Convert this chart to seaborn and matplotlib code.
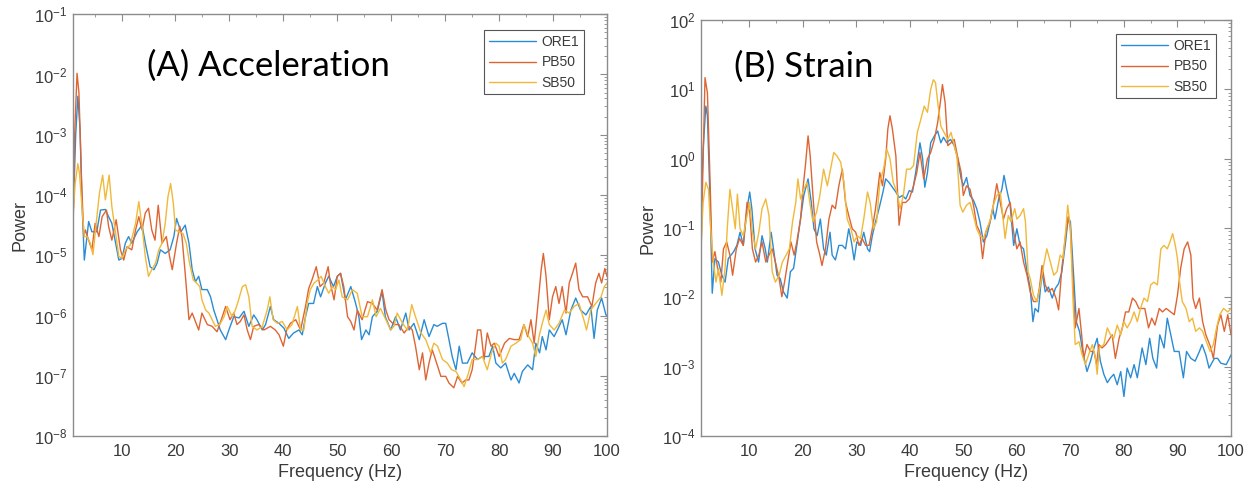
import numpy as np
import pandas as pd
import matplotlib
matplotlib.use("Agg")
import matplotlib.pyplot as plt
import seaborn as sns
from matplotlib.ticker import MultipleLocator, FixedLocator, NullFormatter, LogFormatterSciNotation

# ---------------- data (frequency Hz, log10 power) ----------------
stations = ["ORE1", "PB50", "SB50"]

acc_ore1 = [(1.0,-4.4),(1.5,-3.0),(1.9,-2.36),(2.3,-2.9),(2.7,-4.2),(3.1,-5.08),(3.9,-4.44),(4.5,-4.61),(5.4,-4.61),(6.1,-4.25),(7.0,-4.24),(7.6,-4.36),(8.2,-4.47),(8.9,-4.80),(9.5,-5.08),(10.1,-5.05),(10.7,-4.80),(11.3,-4.69),(11.9,-4.80),(12.9,-4.61),(13.8,-4.50),(14.4,-4.80),(15.3,-5.19),(16.0,-5.24),(16.6,-5.13),(17.2,-4.91),(18.1,-4.97),(19.0,-4.91),(19.7,-4.69),(20.2,-4.39),(21.0,-4.61),(21.8,-4.50),(22.5,-4.80),(23.1,-5.24),(23.7,-5.44),(24.3,-5.35),(24.9,-5.57),(25.9,-5.57),(26.5,-5.69),(27.1,-5.91),(27.7,-6.07),(28.3,-6.24),(29.3,-6.40),(29.9,-6.24),(30.8,-6.02),(31.8,-6.04),(32.7,-5.93),(33.6,-6.18),(34.5,-5.99),(35.1,-6.07),(36.1,-6.24),(36.7,-6.15),(37.6,-5.85),(38.2,-6.07),(39.2,-6.13),(40.1,-6.21),(41.0,-6.38),(41.9,-6.29),(42.9,-6.24),(43.5,-6.32),(44.1,-6.02),(44.7,-5.80),(45.6,-5.80),(46.3,-5.52),(46.9,-5.69),(47.8,-5.46),(48.4,-5.35),(49.3,-5.52),(50.0,-5.35),(50.6,-5.30),(51.5,-5.74),(52.5,-5.52),(53.4,-5.80),(54.0,-6.02),(54.5,-6.40),(55.3,-6.24),(55.9,-6.32),(56.5,-6.02),(57.4,-5.93),(58.3,-5.60),(58.9,-6.02),(59.9,-6.24),(60.8,-6.02),(61.7,-6.24),(62.7,-5.96),(63.3,-6.24),(64.2,-6.13),(65.2,-6.40),(66.1,-6.07),(67.0,-6.35),(67.9,-6.15),(68.5,-6.18),(69.5,-6.13),(70.1,-6.13),(70.7,-6.40),(71.3,-6.68),(72.0,-6.90),(72.6,-6.51),(73.2,-6.79),(74.1,-6.79),(75.0,-6.62),(76.0,-6.73),(76.9,-6.68),(78.1,-6.68),(78.8,-6.51),(79.4,-6.79),(80.3,-6.87),(81.2,-6.79),(82.2,-7.07),(82.8,-6.96),(83.7,-7.12),(84.3,-6.93),(85.3,-6.82),(86.2,-6.90),(86.8,-6.46),(87.5,-6.62),(88.0,-6.35),(88.7,-6.57),(89.3,-6.24),(90.2,-6.35),(90.8,-6.24),(91.7,-6.07),(92.4,-6.32),(93.3,-5.91),(94.2,-5.71),(95.1,-5.91),(96.1,-5.99),(97.0,-5.85),(97.6,-6.38),(98.2,-5.91),(99.0,-5.71),(99.8,-5.99),(100.0,-6.0)]

acc_pb50 = [(1.0,-4.69),(1.3,-3.0),(1.75,-1.98),(2.1,-2.3),(2.6,-3.8),(3.0,-4.69),(3.3,-4.58),(3.9,-4.75),(4.5,-4.91),(5.1,-4.47),(5.8,-4.69),(6.4,-4.36),(7.2,-4.25),(7.6,-4.52),(8.2,-4.75),(9.0,-4.41),(9.8,-4.91),(10.4,-5.08),(11.0,-4.86),(11.9,-4.91),(12.6,-4.58),(13.2,-4.36),(13.8,-4.58),(14.4,-4.30),(15.0,-4.22),(15.6,-4.58),(16.2,-4.75),(16.8,-4.17),(17.5,-4.80),(18.3,-4.69),(18.9,-5.02),(19.4,-5.24),(20.2,-4.80),(20.8,-4.52),(21.2,-4.69),(21.8,-5.30),(22.5,-6.07),(23.1,-5.96),(23.7,-6.10),(24.3,-6.24),(24.9,-5.96),(25.9,-6.15),(26.8,-6.18),(27.7,-6.27),(28.6,-6.04),(29.3,-5.85),(30.1,-6.07),(30.8,-5.96),(31.4,-6.15),(32.0,-6.10),(32.7,-5.99),(33.3,-6.24),(33.9,-6.40),(34.5,-6.18),(35.4,-6.15),(36.4,-6.24),(37.6,-6.18),(38.5,-6.24),(39.2,-6.32),(40.0,-6.51),(40.6,-6.24),(41.3,-6.13),(42.3,-6.07),(43.2,-6.24),(44.1,-5.85),(44.7,-5.55),(45.3,-5.41),(46.1,-5.19),(46.8,-5.52),(47.5,-5.46),(48.3,-5.19),(48.7,-5.46),(49.4,-5.74),(50.0,-5.35),(50.6,-5.30),(51.2,-5.52),(51.9,-6.02),(52.5,-6.10),(53.1,-6.24),(53.7,-5.91),(54.6,-6.07),(55.6,-5.77),(56.5,-5.80),(57.4,-5.91),(58.3,-5.57),(59.0,-5.91),(59.6,-6.07),(60.5,-6.15),(61.4,-6.15),(62.4,-6.29),(63.3,-6.18),(63.9,-6.24),(64.5,-6.51),(65.2,-6.90),(65.8,-6.62),(66.4,-7.07),(67.0,-6.79),(67.6,-6.57),(68.2,-6.73),(69.2,-7.01),(70.1,-7.01),(70.7,-7.12),(71.6,-7.20),(72.3,-7.01),(73.1,-7.12),(73.8,-7.07),(74.4,-7.07),(75.0,-6.90),(75.7,-6.46),(76.0,-6.24),(76.6,-6.24),(77.2,-6.73),(77.8,-6.29),(78.5,-6.51),(79.1,-6.46),(80.0,-6.68),(81.0,-6.46),(81.9,-6.38),(82.8,-6.40),(83.7,-6.40),(84.6,-6.15),(85.3,-6.35),(85.9,-6.07),(86.5,-6.46),(87.1,-5.91),(87.8,-5.24),(88.2,-4.97),(88.7,-5.35),(89.3,-6.07),(89.9,-5.69),(90.5,-5.52),(91.1,-5.80),(91.7,-5.52),(92.4,-5.96),(93.0,-5.46),(93.6,-5.30),(94.2,-5.13),(94.8,-5.57),(95.5,-5.69),(96.4,-5.69),(97.2,-5.85),(97.9,-5.46),(98.5,-5.30),(99.0,-5.46),(99.6,-5.22),(100.0,-5.35)]

acc_sb50 = [(1.0,-4.36),(1.4,-3.81),(1.9,-3.48),(2.2,-3.64),(2.7,-4.25),(3.1,-4.69),(3.6,-4.69),(4.2,-4.80),(4.7,-4.99),(5.3,-4.47),(5.9,-3.97),(6.5,-3.67),(7.0,-4.08),(7.7,-3.67),(8.2,-4.19),(8.9,-4.64),(9.5,-5.02),(10.1,-5.05),(10.7,-4.91),(11.6,-4.83),(12.6,-4.47),(13.2,-4.11),(13.8,-4.52),(14.4,-5.02),(15.0,-5.35),(15.6,-5.24),(16.3,-5.13),(16.9,-4.91),(17.5,-4.80),(18.1,-4.47),(18.6,-4.03),(19.1,-3.81),(19.6,-4.14),(20.0,-4.58),(20.6,-4.61),(21.4,-4.64),(22.0,-4.80),(22.6,-5.13),(23.3,-5.41),(23.9,-5.46),(24.5,-5.52),(24.9,-5.74),(25.6,-5.91),(26.2,-5.96),(26.8,-6.07),(27.4,-6.18),(28.2,-6.15),(29.0,-6.02),(29.6,-5.85),(30.5,-6.02),(31.1,-5.91),(31.7,-5.74),(32.4,-5.52),(33.0,-5.49),(33.6,-5.69),(34.2,-6.18),(35.1,-6.24),(36.1,-6.18),(37.0,-5.91),(37.5,-5.69),(38.1,-6.07),(38.9,-6.13),(39.8,-6.10),(40.7,-6.24),(41.6,-6.15),(42.6,-5.85),(43.2,-6.24),(43.8,-6.24),(44.4,-5.80),(45.0,-5.57),(45.7,-5.46),(46.4,-5.41),(47.0,-5.35),(47.8,-5.52),(48.4,-5.63),(49.1,-5.52),(49.7,-5.57),(50.3,-5.41),(50.9,-5.69),(51.9,-5.74),(52.8,-5.57),(53.7,-5.63),(54.6,-6.02),(55.6,-6.02),(56.5,-5.74),(57.2,-6.02),(58.0,-5.88),(59.0,-6.07),(59.9,-6.24),(60.5,-6.18),(61.1,-5.96),(62.1,-6.13),(63.0,-6.24),(63.8,-5.82),(64.5,-6.02),(65.5,-6.29),(66.4,-6.40),(67.3,-6.62),(67.9,-6.46),(68.6,-6.51),(69.5,-6.73),(70.4,-6.79),(71.2,-6.90),(72.0,-6.93),(72.9,-7.07),(73.5,-7.18),(74.3,-6.96),(75.0,-6.73),(76.0,-6.73),(76.9,-6.68),(77.8,-6.90),(78.6,-6.62),(79.4,-6.46),(80.0,-6.51),(80.6,-6.79),(81.2,-6.73),(82.2,-6.51),(83.1,-6.46),(84.0,-6.40),(84.6,-6.15),(85.5,-6.35),(86.2,-6.46),(86.8,-6.68),(87.4,-6.35),(88.0,-6.13),(88.7,-5.91),(89.3,-6.15),(90.2,-6.24),(91.1,-6.13),(92.1,-5.91),(93.0,-5.96),(93.9,-5.85),(94.8,-5.80),(95.8,-6.10),(96.2,-6.24),(97.0,-5.91),(97.9,-5.80),(98.9,-5.69),(99.5,-5.52),(100.0,-5.46)]

str_ore1 = [(1.0,-0.77),(1.4,0.14),(1.9,0.76),(2.2,0.62),(2.7,-0.63),(3.1,-1.94),(3.6,-1.44),(4.25,-1.49),(4.9,-1.68),(5.5,-1.78),(6.1,-1.44),(7.1,-1.34),(7.7,-1.25),(8.3,-1.06),(8.9,-1.25),(9.6,-0.72),(10.1,-0.48),(10.5,-0.72),(11.1,-1.30),(11.75,-1.49),(12.4,-1.11),(13.0,-1.30),(13.4,-1.49),(14.1,-1.06),(14.7,-1.39),(15.2,-1.68),(15.8,-1.73),(16.4,-1.92),(17.1,-2.01),(17.7,-1.63),(18.3,-1.58),(18.9,-1.25),(19.6,-0.87),(20.2,-0.53),(21.0,-0.29),(21.6,-0.63),(22.1,-1.01),(22.7,-1.11),(23.3,-0.87),(23.9,-1.30),(24.4,-1.39),(25.1,-1.06),(25.5,-1.39),(26.1,-1.46),(26.75,-1.25),(27.4,-1.25),(28.0,-1.30),(28.6,-1.01),(29.1,-1.20),(29.6,-1.46),(30.1,-1.20),(30.8,-1.25),(31.4,-1.06),(32.1,-1.30),(32.5,-1.34),(33.0,-1.11),(33.6,-0.91),(34.25,-0.72),(34.9,-0.51),(35.5,-0.29),(36.1,-0.34),(36.75,-0.41),(37.4,-0.48),(38.0,-0.56),(38.6,-0.53),(39.25,-0.58),(39.9,-0.46),(40.5,-0.48),(41.1,-0.20),(41.9,0.23),(42.4,0.00),(42.8,-0.41),(43.3,-0.20),(43.9,0.23),(44.6,0.33),(45.2,0.40),(45.8,0.23),(46.3,0.31),(46.9,0.23),(47.6,0.28),(48.3,0.19),(48.9,0.02),(49.6,-0.29),(50.0,-0.39),(50.6,-0.27),(51.25,-0.53),(51.9,-0.60),(52.5,-0.72),(53.1,-0.91),(53.75,-1.20),(54.4,-1.11),(55.0,-0.91),(55.5,-0.72),(55.9,-0.87),(56.6,-0.58),(57.2,-0.44),(57.6,-0.24),(58.1,-0.44),(58.75,-0.67),(59.4,-1.25),(60.0,-1.01),(60.6,-1.25),(61.25,-1.30),(61.9,-1.63),(62.5,-1.87),(63.0,-2.35),(63.4,-2.16),(64.0,-2.21),(64.7,-1.63),(65.3,-1.92),(65.9,-1.85),(66.6,-2.01),(67.2,-1.87),(67.8,-1.80),(68.4,-1.63),(69.1,-1.20),(69.6,-0.84),(70.0,-0.91),(70.6,-1.68),(71.1,-2.35),(71.7,-2.49),(72.3,-2.78),(73.1,-3.07),(73.75,-2.92),(74.4,-2.73),(75.0,-2.59),(75.6,-2.92),(76.25,-3.11),(76.9,-3.23),(77.5,-3.16),(78.1,-3.11),(78.75,-3.26),(79.4,-3.07),(80.0,-3.43),(80.6,-3.02),(81.25,-3.16),(81.9,-2.97),(82.5,-3.16),(83.4,-2.73),(84.1,-2.97),(84.8,-2.59),(85.4,-2.88),(86.1,-3.02),(86.7,-2.54),(87.5,-2.73),(88.1,-2.30),(88.75,-2.54),(89.4,-2.78),(90.3,-2.78),(91.1,-3.16),(91.7,-2.78),(92.5,-2.88),(93.3,-2.92),(94.1,-2.78),(94.6,-2.68),(95.3,-2.83),(95.9,-3.02),(96.9,-2.88),(97.5,-2.88),(98.1,-2.95),(99.1,-2.97),(99.7,-2.88),(100.0,-2.83)]

str_pb50 = [(1.0,-1.44),(1.3,-0.34),(1.75,1.17),(2.2,0.95),(2.7,-0.34),(3.1,-1.49),(3.6,-1.34),(4.1,-1.58),(4.7,-1.78),(5.2,-1.30),(5.8,-1.20),(6.4,-1.39),(6.9,-1.68),(7.6,-1.30),(8.2,-1.15),(8.9,-1.25),(9.6,-0.63),(10.1,-0.77),(10.6,-1.30),(11.2,-1.49),(11.8,-1.39),(12.4,-1.20),(13.1,-1.49),(13.7,-1.39),(14.3,-1.30),(14.9,-1.49),(15.6,-1.73),(16.1,-1.99),(16.6,-1.78),(17.2,-1.49),(17.8,-1.20),(18.4,-1.39),(18.9,-1.20),(19.6,-0.87),(20.1,-0.39),(20.5,-0.10),(21.0,0.33),(21.4,0.04),(22.0,-0.63),(22.6,-1.20),(23.2,-1.39),(23.6,-1.54),(24.25,-1.30),(24.9,-0.87),(25.5,-0.67),(26.1,-0.72),(26.75,-0.39),(27.4,-0.15),(28.0,-0.63),(28.6,-0.82),(29.25,-1.01),(29.9,-1.06),(30.5,-1.25),(31.1,-1.15),(31.75,-1.25),(32.4,-1.25),(33.0,-1.01),(33.6,-0.72),(34.4,-0.20),(34.9,-0.39),(35.5,0.00),(35.9,0.43),(36.3,0.62),(36.75,0.43),(37.4,0.04),(38.0,-0.96),(38.6,-0.63),(39.25,-0.63),(39.9,-0.58),(40.7,-0.39),(41.3,-0.20),(41.9,0.09),(42.6,-0.29),(43.3,0.00),(43.9,0.09),(44.6,0.28),(45.2,0.52),(45.7,0.81),(46.1,1.07),(46.6,0.81),(47.1,0.19),(47.7,0.23),(48.3,0.28),(48.9,0.04),(49.6,-0.20),(50.0,-0.53),(50.6,-0.39),(51.25,-0.44),(51.9,-0.67),(52.5,-0.96),(53.1,-1.06),(53.6,-1.44),(54.2,-1.06),(55.0,-0.91),(55.6,-0.67),(56.25,-0.36),(56.9,-0.63),(57.5,-0.87),(58.1,-0.72),(58.75,-0.63),(59.4,-1.06),(60.0,-1.30),(60.6,-1.20),(61.25,-1.49),(61.9,-1.68),(62.5,-1.92),(63.1,-2.06),(63.75,-2.06),(64.2,-1.87),(64.7,-1.54),(65.3,-1.82),(65.9,-1.92),(66.6,-1.87),(67.3,-2.01),(67.8,-2.18),(68.4,-1.58),(69.1,-1.11),(69.6,-0.84),(70.0,-1.01),(70.4,-1.63),(70.9,-2.44),(71.6,-2.16),(72.1,-2.54),(72.5,-2.88),(73.1,-2.68),(73.75,-2.78),(74.4,-2.78),(74.9,-2.97),(75.3,-2.68),(75.9,-2.73),(76.6,-2.68),(77.2,-2.61),(77.8,-2.54),(78.4,-2.88),(79.1,-2.59),(79.7,-2.44),(80.3,-2.21),(80.9,-2.21),(81.6,-2.01),(82.2,-2.06),(82.8,-2.16),(83.4,-2.16),(83.9,-2.16),(84.6,-2.44),(85.2,-2.30),(85.8,-2.40),(86.6,-2.16),(87.2,-2.21),(87.9,-2.16),(88.75,-2.21),(89.4,-2.25),(90.0,-1.97),(90.6,-1.58),(91.25,-1.30),(91.9,-1.20),(92.5,-1.39),(92.9,-2.01),(93.4,-2.16),(94.1,-2.01),(94.7,-2.35),(95.3,-2.54),(96.25,-2.73),(96.7,-2.88),(97.5,-2.40),(98.1,-2.25),(98.75,-2.49),(99.4,-2.25),(100.0,-2.54)]

str_sb50 = [(1.0,-1.25),(1.4,-0.63),(1.9,-0.34),(2.4,-0.44),(2.8,-1.01),(3.3,-1.49),(3.8,-1.78),(4.25,-1.58),(4.9,-1.97),(5.5,-1.58),(5.9,-1.01),(6.4,-0.44),(6.9,-0.72),(7.4,-1.01),(7.8,-0.51),(8.3,-1.01),(8.9,-1.11),(9.6,-0.82),(10.1,-0.63),(10.6,-1.06),(11.2,-1.30),(11.8,-1.06),(12.4,-0.72),(13.1,-0.58),(13.7,-0.82),(14.3,-1.63),(14.9,-1.78),(15.6,-1.68),(16.2,-1.49),(16.9,-1.39),(17.5,-1.30),(18.1,-0.91),(18.7,-0.63),(19.1,-0.29),(19.6,-0.58),(20.2,-0.44),(20.8,-0.34),(21.4,-0.67),(21.9,-0.91),(22.6,-0.77),(23.2,-0.53),(23.9,-0.15),(24.6,-0.39),(25.2,-0.15),(25.8,0.09),(26.4,0.04),(27.1,-0.05),(27.7,-0.34),(28.3,-0.87),(29.0,-1.01),(29.6,-1.20),(30.2,-1.11),(30.8,-1.15),(31.4,-0.87),(32.1,-0.48),(32.6,-0.63),(33.2,-1.01),(33.8,-0.91),(34.4,-0.34),(35.1,-0.15),(35.7,0.14),(36.3,0.00),(36.9,-0.34),(37.6,-0.48),(38.2,-0.72),(38.8,-0.53),(39.4,-0.15),(40.1,-0.15),(40.7,-0.10),(41.4,0.38),(41.9,0.52),(42.7,0.76),(43.3,0.67),(43.9,1.00),(44.4,1.14),(44.8,1.10),(45.3,0.76),(45.8,0.47),(46.4,0.38),(47.1,0.28),(47.7,0.38),(48.3,0.19),(48.8,0.04),(49.4,-0.67),(49.9,-0.77),(50.6,-0.67),(51.25,-0.63),(51.9,-0.82),(52.5,-1.01),(53.1,-1.11),(53.75,-1.15),(54.4,-1.01),(55.0,-0.89),(55.6,-0.67),(56.25,-0.53),(56.9,-0.48),(57.3,-0.77),(57.8,-1.15),(58.4,-0.82),(58.9,-0.91),(59.6,-0.72),(60.0,-0.87),(60.6,-0.82),(61.25,-0.72),(61.6,-0.91),(62.1,-1.63),(62.5,-1.73),(63.1,-1.97),(63.75,-2.06),(64.4,-1.82),(65.0,-1.54),(65.6,-1.30),(66.25,-1.49),(66.9,-1.68),(67.5,-1.63),(68.1,-1.39),(68.6,-1.44),(69.1,-1.06),(69.5,-0.67),(70.0,-1.01),(70.5,-2.06),(70.9,-2.68),(71.6,-2.64),(72.2,-2.83),(72.8,-2.97),(73.4,-2.83),(74.1,-2.68),(74.7,-2.88),(75.0,-3.11),(75.4,-2.73),(76.25,-2.68),(76.9,-2.44),(77.5,-2.54),(78.1,-2.59),(78.75,-2.40),(79.4,-2.54),(80.0,-2.35),(80.6,-2.44),(81.25,-2.35),(81.9,-2.21),(82.5,-2.35),(83.1,-2.16),(83.75,-2.01),(84.4,-2.06),(85.0,-1.82),(85.6,-1.78),(86.25,-1.82),(86.9,-1.30),(87.5,-1.25),(88.1,-1.30),(88.6,-1.20),(89.1,-1.08),(89.6,-1.25),(90.0,-1.44),(90.4,-1.78),(90.9,-2.06),(91.6,-2.16),(92.2,-2.35),(92.8,-2.30),(93.4,-2.49),(94.1,-2.44),(94.7,-2.49),(95.4,-2.64),(96.1,-2.78),(96.7,-2.68),(97.3,-2.44),(97.9,-2.25),(98.6,-2.16),(99.4,-2.21),(100.0,-2.16)]

panel_titles = ["(A) Acceleration", "(B) Strain"]
x_label = "Frequency (Hz)"
y_label = "Power"
x_ticks = [10, 20, 30, 40, 50, 60, 70, 80, 90, 100]
acc_decades = [-8, -7, -6, -5, -4, -3, -2, -1]
str_decades = [-4, -3, -2, -1, 0, 1, 2]

# ---------------- style ----------------
sns.set_style("white")
plt.rcParams["font.family"] = ["Liberation Sans", "DejaVu Sans"]
plt.rcParams["mathtext.default"] = "regular"

colors = ["#2a8cd4", "#de6533", "#f0b93a"]
palette = dict(zip(stations, colors))
text_col = "#3a3a3a"
spine_col = "#8c8c8c"


def to_frame(series_list):
    rows = []
    for name, pts in zip(stations, series_list):
        for f, lg in pts:
            rows.append({"freq": f, "power": 10.0 ** lg, "station": name})
    return pd.DataFrame(rows)


df_acc = to_frame([acc_ore1, acc_pb50, acc_sb50])
df_str = to_frame([str_ore1, str_pb50, str_sb50])

fig = plt.figure(figsize=(12.5, 4.91), dpi=100)
ax1 = fig.add_axes([0.0584, 0.112, 0.4272, 0.859])
ax2 = fig.add_axes([0.5608, 0.112, 0.424, 0.847])

configs = [
    (ax1, df_acc, acc_decades, panel_titles[0], (0.139, 0.879), (0.957, 0.962)),
    (ax2, df_str, str_decades, panel_titles[1], (0.062, 0.887), (0.972, 0.966)),
]

for ax, df, decades, title, tpos, lpos in configs:
    sns.lineplot(data=df, x="freq", y="power", hue="station", hue_order=stations,
                 palette=palette, estimator=None, sort=False, linewidth=1.0,
                 ax=ax, legend=True)
    ax.set_yscale("log")
    ax.set_xlim(1, 100)
    ax.set_ylim(10.0 ** decades[0], 10.0 ** decades[-1])
    ax.set_xticks(x_ticks)
    ax.set_xticklabels([str(t) for t in x_ticks])
    ax.xaxis.set_minor_locator(MultipleLocator(5))
    major = [10.0 ** d for d in decades]
    minor = [m * 10.0 ** d for d in decades[:-1] for m in range(2, 10)]
    ax.yaxis.set_major_locator(FixedLocator(major))
    ax.yaxis.set_major_formatter(LogFormatterSciNotation())
    ax.yaxis.set_minor_locator(FixedLocator(minor))
    ax.yaxis.set_minor_formatter(NullFormatter())
    ax.tick_params(which="both", direction="in", top=True, right=True,
                   colors=spine_col, labelcolor=text_col, labelsize=12)
    ax.tick_params(which="major", length=5, width=0.8)
    ax.tick_params(which="minor", length=2.5, width=0.6)
    ax.tick_params(axis="x", which="major", pad=6)
    ax.tick_params(axis="y", which="major", pad=4)
    for sp in ax.spines.values():
        sp.set_color(spine_col)
        sp.set_linewidth(1.0)
    ax.set_xlabel(x_label, fontsize=13, color=text_col, labelpad=3)
    ax.set_ylabel(y_label, fontsize=13, color=text_col, labelpad=4)
    ax.text(tpos[0], tpos[1], title, transform=ax.transAxes, fontsize=25,
            family=["Lato", "DejaVu Sans"], color="black", va="center", ha="left")
    handles, labels = ax.get_legend_handles_labels()
    leg = ax.legend(handles, labels, loc="upper right", bbox_to_anchor=lpos,
                    frameon=True, fancybox=False, framealpha=1, edgecolor="#555555",
                    fontsize=10, handlelength=3.4, handletextpad=0.4,
                    labelspacing=0.45, borderpad=0.35, borderaxespad=0.0)
    leg.get_frame().set_linewidth(0.8)
    for t in leg.get_texts():
        t.set_color(text_col)

fig.savefig("out.png", dpi=100)
